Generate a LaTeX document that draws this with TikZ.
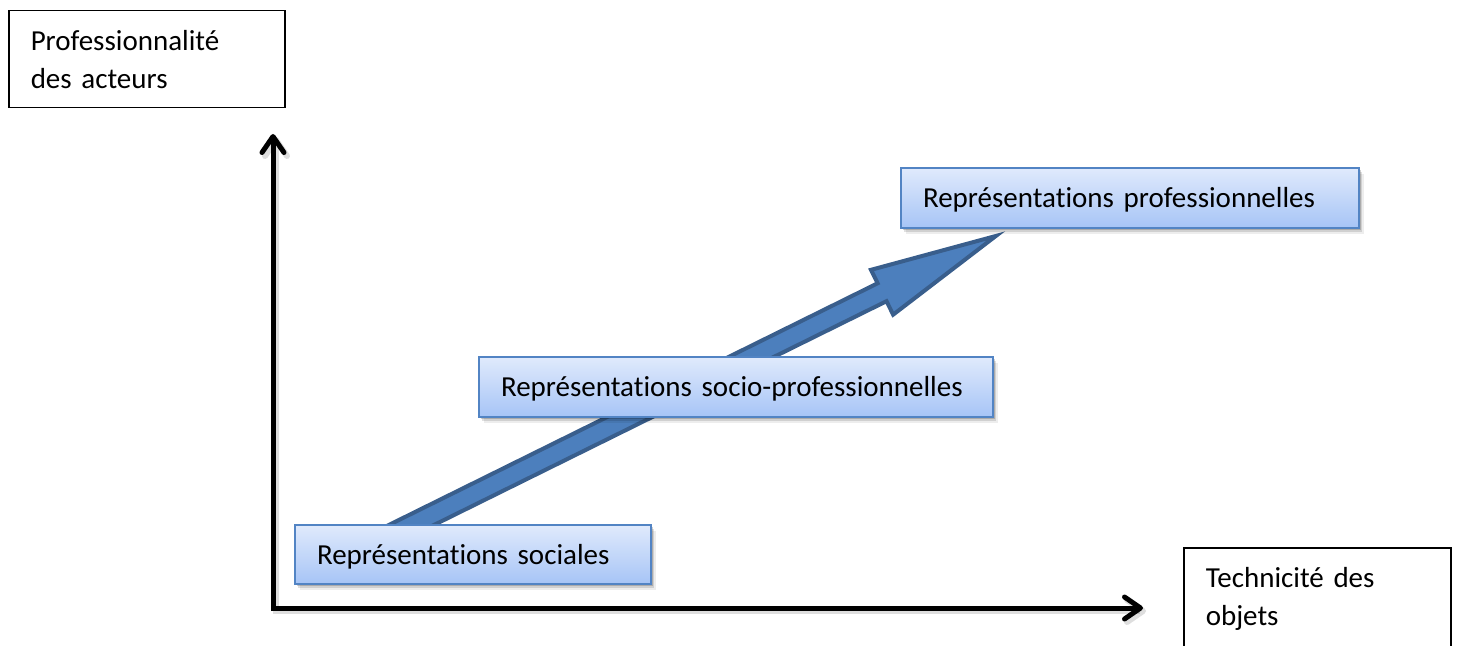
\documentclass[tikz,border=0pt]{standalone}
\usepackage{fontspec}
\setmainfont[Ligatures={NoCommon}]{Carlito}
\usetikzlibrary{arrows.meta,shadows,backgrounds}
\definecolor{boxtop}{HTML}{E0EAFC}
\definecolor{boxbot}{HTML}{A6C4F6}
\definecolor{boxline}{HTML}{5284C4}
\definecolor{bigfill}{HTML}{4C7FBD}
\definecolor{bigline}{HTML}{395E8C}
\tikzset{
  softshadow/.style={
    drop shadow={shadow xshift=0.8pt,shadow yshift=-1.2pt,opacity=0.18,fill=black},
    drop shadow={shadow xshift=1.6pt,shadow yshift=-2.2pt,opacity=0.12,fill=black},
    drop shadow={shadow xshift=2.4pt,shadow yshift=-3.2pt,opacity=0.07,fill=black}},
  repbox/.style={rectangle, draw=boxline, line width=1pt, top color=boxtop,
    bottom color=boxbot, softshadow, align=left, inner xsep=11pt, inner ysep=0pt,
    text height=12pt, text depth=2.5pt,
    font=\fontsize{14.5}{19}\selectfont, anchor=north west},
  axisbox/.style={rectangle, draw=black, line width=0.75pt, fill=white, align=left,
    inner xsep=11pt, inner ysep=0pt, font=\fontsize{14.5}{19}\selectfont,
    anchor=north west},
  axisline/.style={line width=2.5pt, line join=miter,
    {Straight Barb[length=8pt,width=11pt,round]}-{Straight Barb[length=8pt,width=11pt,round]},
    preaction={draw=black, opacity=0.13, line width=3pt,
      transform canvas={xshift=1.5pt,yshift=-1.5pt}}},
  bigarrow/.style={line width=2pt, draw=bigline, fill=bigfill, line join=miter},
}
\begin{document}
\begin{tikzpicture}[x=0.5pt,y=-0.5pt]
\useasboundingbox (0,0) rectangle (1459,646);

% axis label boxes
\node[axisbox, text width=116pt, minimum height=48.5pt] (prof) at (8,10)
  {Professionnalité\\des acteurs};
\node[axisbox, text width=111.5pt, minimum height=51pt] (tech) at (1183,547)
  {Technicité des\\objets};

% axes
\coordinate (ytip) at (273,134);
\coordinate (origin) at (273,608);
\coordinate (xtip) at (1143,608);
\draw[axisline] (ytip) -- (origin) -- (xtip);

% representation boxes
\node[repbox, text width=156pt, minimum height=29.5pt] (rs) at (294,524)
  {Représentations sociales};
\node[repbox, text width=235pt, minimum height=30pt] (rsp) at (478,356)
  {Représentations socio-professionnelles};
\node[repbox, text width=207pt, minimum height=30pt] (rp) at (900,167)
  {Représentations professionnelles};

% big block arrow, behind the boxes
\coordinate (bigstart) at (381,540);
\begin{scope}[on background layer]
  \draw[bigarrow, shift={(bigstart)}, rotate=26.31]
    (0,-10) -- (559,-10) -- (559,-25) -- (686,0) -- (559,25) -- (559,10)
    -- (0,10) -- cycle;
\end{scope}
\end{tikzpicture}
\end{document}
